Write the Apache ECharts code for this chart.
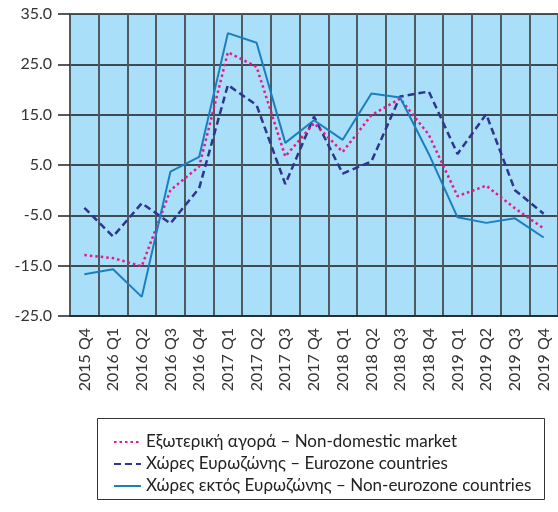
<!DOCTYPE html>
<html>
<head>
<meta charset="utf-8">
<script src="https://cdn.jsdelivr.net/npm/echarts@6/dist/echarts.min.js"></script>
<style>
  html, body { margin: 0; padding: 0; background: #fff; }
  #chart { width: 558px; height: 512px; }
</style>
</head>
<body>
<div id="chart"></div>
<script>
var quarters = ['2015 Q4', '2016 Q1', '2016 Q2', '2016 Q3', '2016 Q4', '2017 Q1', '2017 Q2', '2017 Q3', '2017 Q4',
  '2018 Q1', '2018 Q2', '2018 Q3', '2018 Q4', '2019 Q1', '2019 Q2', '2019 Q3', '2019 Q4'];

// Εξωτερική αγορά – Non-domestic market
var nonDomestic = [-12.9, -13.5, -15.1, 0.0, 4.7, 27.4, 24.5, 6.7, 13.3, 7.6, 14.9, 18.2, 11.0, -1.2, 0.9, -3.6, -7.6];
// Χώρες Ευρωζώνης – Eurozone countries
var eurozone = [-3.5, -9.2, -2.6, -6.6, 0.4, 20.9, 16.9, 1.2, 14.6, 3.3, 5.7, 18.6, 19.6, 7.2, 15.1, 0.0, -4.7];
// Χώρες εκτός Ευρωζώνης – Non-eurozone countries
var nonEurozone = [-16.7, -15.7, -21.2, 3.7, 6.6, 31.2, 29.3, 9.4, 13.9, 10.0, 19.2, 18.4, 7.2, -5.4, -6.5, -5.6, -9.4];

var names = ['Εξωτερική αγορά – Non-domestic market',
  'Χώρες Ευρωζώνης – Eurozone countries',
  'Χώρες εκτός Ευρωζώνης – Non-eurozone countries'];

var font = 'Lato, "Noto Sans", sans-serif';

var chart = echarts.init(document.getElementById('chart'));
chart.setOption({
  animation: false,
  textStyle: { fontFamily: font },
  grid: { left: 70, top: 14, width: 492, height: 302, backgroundColor: '#a9dff9', show: true, borderWidth: 0 },
  xAxis: {
    type: 'category',
    data: quarters,
    boundaryGap: true,
    axisLine: { show: true, onZero: false, lineStyle: { color: '#222', width: 1.5 } },
    axisTick: { show: false },
    axisLabel: { rotate: 90, fontSize: 16, color: '#333', margin: 12, fontFamily: font, interval: 0 },
    splitLine: { show: true, interval: 0, lineStyle: { color: '#4d5a60', width: 2 } }
  },
  yAxis: {
    type: 'value',
    min: -25, max: 35, interval: 10,
    axisLine: { show: false },
    axisTick: { show: true, length: 12, lineStyle: { color: '#222', width: 1.5 } },
    axisLabel: { fontSize: 16, color: '#333', margin: 18, fontFamily: font,
      formatter: function (v) { return v.toFixed(1); } },
    splitLine: { show: true, lineStyle: { color: '#1a1a1a', width: 1.5 } }
  },
  legend: {
    orient: 'vertical',
    left: 108, top: 426,
    itemWidth: 27, itemHeight: 10, itemGap: 0,
    itemStyle: { color: 'rgba(0,0,0,0)', borderColor: 'rgba(0,0,0,0)', borderWidth: 0, opacity: 0 },
    textStyle: { fontSize: 17, color: '#222', lineHeight: 22, fontFamily: font },
    data: names
  },
  graphic: [{
    type: 'rect',
    shape: { x: 97.5, y: 418.5, width: 447, height: 81 },
    style: { fill: 'none', stroke: '#333', lineWidth: 1 }
  }],
  series: [
    { name: names[0], type: 'line', data: nonDomestic, symbol: 'none', z: 3,
      lineStyle: { color: '#e5198a', width: 2.5, type: [2.5, 3] }, itemStyle: { color: '#e5198a' } },
    { name: names[1], type: 'line', data: eurozone, symbol: 'none', z: 2,
      lineStyle: { color: '#2f3490', width: 2.5, type: [7, 4] }, itemStyle: { color: '#2f3490' } },
    { name: names[2], type: 'line', data: nonEurozone, symbol: 'none', z: 4,
      lineStyle: { color: '#1a7fc0', width: 2 }, itemStyle: { color: '#1a7fc0' } }
  ]
});
</script>
</body>
</html>
